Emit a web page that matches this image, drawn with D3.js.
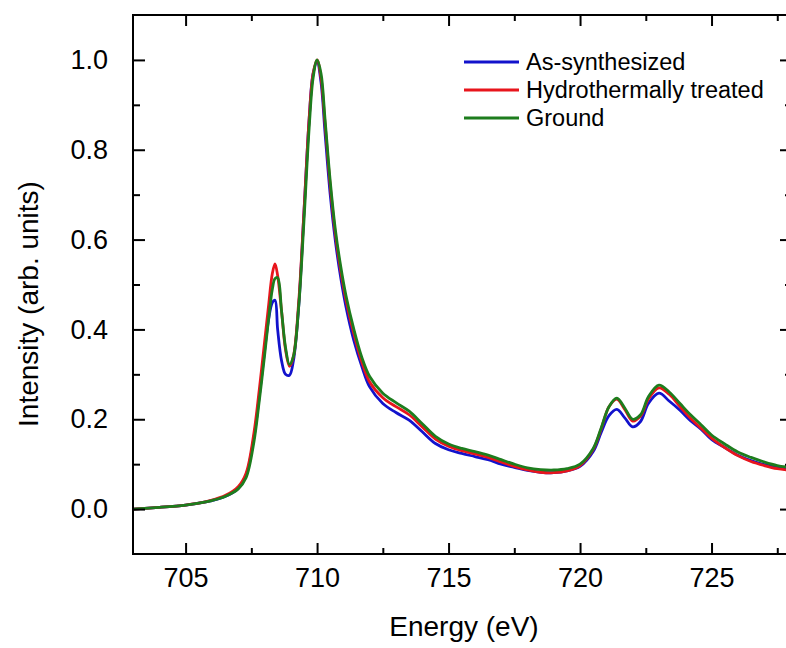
<!DOCTYPE html>
<html>
<head>
<meta charset="utf-8">
<script src="https://cdn.jsdelivr.net/npm/d3@7"></script>
<style>
  html, body { margin: 0; padding: 0; background: #fff; }
  svg { display: block; }
  text { font-family: "Liberation Sans", Arial, sans-serif; fill: #000; }
</style>
</head>
<body>
<svg id="chart" width="786" height="648"></svg>
<script>
// ---- Data ----
const energy = [703, 704, 705, 705.5, 706, 706.5, 707, 707.3, 707.6, 707.8, 708.0, 708.15, 708.3, 708.4, 708.5, 708.65, 708.8, 708.95, 709.1, 709.3, 709.5, 709.7, 709.85, 710.0, 710.15, 710.3, 710.5, 710.7, 710.9, 711.1, 711.4, 711.7, 712.0, 712.5, 713.0, 713.5, 714.0, 714.5, 715.0, 715.5, 716.0, 716.5, 717.0, 717.5, 718.0, 718.5, 719.0, 719.5, 720.0, 720.5, 720.8, 721.1, 721.4, 721.7, 722.0, 722.3, 722.6, 723.0, 723.4, 723.8, 724.2, 724.6, 725.0, 725.5, 726.0, 726.5, 727.0, 727.5, 728.1];

const asSynthesized = [0.000, 0.004, 0.009, 0.013, 0.019, 0.028, 0.046, 0.075, 0.160, 0.250, 0.350, 0.420, 0.460, 0.465, 0.400, 0.330, 0.300, 0.298, 0.330, 0.450, 0.660, 0.870, 0.970, 0.995, 0.950, 0.840, 0.700, 0.595, 0.515, 0.450, 0.375, 0.318, 0.272, 0.235, 0.215, 0.198, 0.172, 0.146, 0.132, 0.124, 0.117, 0.110, 0.100, 0.093, 0.086, 0.082, 0.081, 0.085, 0.095, 0.128, 0.170, 0.208, 0.222, 0.203, 0.183, 0.195, 0.235, 0.258, 0.240, 0.220, 0.197, 0.178, 0.155, 0.137, 0.120, 0.108, 0.099, 0.093, 0.088];

const hydrothermal = [0.000, 0.004, 0.009, 0.013, 0.020, 0.030, 0.050, 0.080, 0.170, 0.265, 0.370, 0.450, 0.525, 0.546, 0.520, 0.440, 0.355, 0.318, 0.340, 0.460, 0.660, 0.870, 0.970, 1.000, 0.960, 0.860, 0.720, 0.610, 0.530, 0.465, 0.390, 0.328, 0.283, 0.248, 0.228, 0.210, 0.183, 0.156, 0.140, 0.130, 0.123, 0.115, 0.105, 0.095, 0.087, 0.082, 0.081, 0.085, 0.097, 0.133, 0.178, 0.228, 0.245, 0.222, 0.196, 0.207, 0.245, 0.270, 0.255, 0.228, 0.202, 0.180, 0.158, 0.137, 0.119, 0.106, 0.097, 0.090, 0.086];

const ground = [0.000, 0.004, 0.009, 0.013, 0.019, 0.028, 0.045, 0.070, 0.150, 0.240, 0.340, 0.420, 0.490, 0.513, 0.515, 0.440, 0.360, 0.322, 0.340, 0.450, 0.640, 0.850, 0.960, 1.000, 0.970, 0.870, 0.730, 0.620, 0.540, 0.475, 0.400, 0.338, 0.295, 0.258, 0.237, 0.218, 0.190, 0.162, 0.145, 0.135, 0.128, 0.120, 0.110, 0.100, 0.092, 0.088, 0.087, 0.090, 0.100, 0.135, 0.180, 0.228, 0.247, 0.225, 0.200, 0.210, 0.250, 0.276, 0.260, 0.235, 0.210, 0.188, 0.165, 0.145, 0.127, 0.115, 0.105, 0.097, 0.092];

const seriesNames = ["As-synthesized", "Hydrothermally treated", "Ground"];
const xTickValues = [705, 710, 715, 720, 725];
const xMinorValues = [707.5, 712.5, 717.5, 722.5, 727.5];
const yTickValues = [0.0, 0.2, 0.4, 0.6, 0.8, 1.0];
const yMinorValues = [0.1, 0.3, 0.5, 0.7, 0.9];

// ---- Layout ----
const svg = d3.select("#chart");
const pLeft = 133, pRight = 792, pTop = 15, pBottom = 554;
const x = d3.scaleLinear().domain([703, 728.06]).range([pLeft, pRight]);
const y = d3.scaleLinear().domain([-0.1, 1.1]).range([pBottom, pTop]);

const colors = ["#1212cc", "#e8151c", "#1d7d1d"];
const seriesValues = [asSynthesized, hydrothermal, ground];

// ---- Lines ----
const line = d3.line()
  .x(d => x(d[0]))
  .y(d => y(d[1]))
  .curve(d3.curveCatmullRom.alpha(0.5));

svg.append("clipPath").attr("id", "clip")
  .append("rect").attr("x", pLeft).attr("y", pTop).attr("width", pRight - pLeft).attr("height", pBottom - pTop);

const plot = svg.append("g").attr("clip-path", "url(#clip)");
seriesValues.forEach((vals, i) => {
  const pts = energy.map((e, j) => [e, vals[j]]);
  plot.append("path")
    .datum(pts)
    .attr("fill", "none")
    .attr("stroke", colors[i])
    .attr("stroke-width", 2.8)
    .attr("stroke-linejoin", "round")
    .attr("d", line);
});

// ---- Axes ----
const fontTick = 27;
function styleAxis(g) {
  g.select(".domain").remove();
  g.selectAll("line").attr("stroke", "#000").attr("stroke-width", 2);
  g.selectAll("text").style("font-size", fontTick + "px").attr("fill", "#000")
    .style("font-family", '"Liberation Sans", Arial, sans-serif');
}

// bottom
const gB = svg.append("g").attr("transform", `translate(0,${pBottom})`);
gB.call(d3.axisBottom(x).tickValues(xTickValues).tickSize(-11).tickPadding(14).tickFormat(d3.format("d")));
gB.call(styleAxis);
gB.append("g").call(d3.axisBottom(x).tickValues(xMinorValues).tickSize(-6).tickFormat("")).call(styleAxis);

// top
const gT = svg.append("g").attr("transform", `translate(0,${pTop})`);
gT.call(d3.axisTop(x).tickValues(xTickValues).tickSize(-11).tickFormat(""));
gT.call(styleAxis);
gT.append("g").call(d3.axisTop(x).tickValues(xMinorValues).tickSize(-6).tickFormat("")).call(styleAxis);

// left
const gL = svg.append("g").attr("transform", `translate(${pLeft},0)`);
gL.call(d3.axisLeft(y).tickValues(yTickValues).tickSize(-12).tickPadding(25).tickFormat(d3.format(".1f")));
gL.call(styleAxis);
gL.append("g").call(d3.axisLeft(y).tickValues(yMinorValues).tickSize(-7).tickFormat("")).call(styleAxis);

// right
const gR = svg.append("g").attr("transform", `translate(${pRight},0)`);
gR.call(d3.axisRight(y).tickValues(yTickValues).tickSize(-12).tickFormat(""));
gR.call(styleAxis);
gR.append("g").call(d3.axisRight(y).tickValues(yMinorValues).tickSize(-7).tickFormat("")).call(styleAxis);

// frame
svg.append("rect")
  .attr("x", pLeft).attr("y", pTop)
  .attr("width", pRight - pLeft).attr("height", pBottom - pTop)
  .attr("fill", "none").attr("stroke", "#000").attr("stroke-width", 2);

// ---- Titles ----
svg.append("text")
  .attr("x", 464).attr("y", 636)
  .attr("text-anchor", "middle")
  .style("font-size", "28px")
  .text("Energy (eV)");

svg.append("text")
  .attr("transform", "translate(38,304) rotate(-90)")
  .attr("text-anchor", "middle")
  .style("font-size", "28px")
  .text("Intensity (arb. units)");

// ---- Legend ----
const legend = svg.append("g");
seriesNames.forEach((name, i) => {
  const ly = 62 + i * 28;
  legend.append("line")
    .attr("x1", 464).attr("x2", 519)
    .attr("y1", ly).attr("y2", ly)
    .attr("stroke", colors[i]).attr("stroke-width", 2.8);
  legend.append("text")
    .attr("x", 526).attr("y", ly + 8)
    .style("font-size", "23.5px")
    .text(name);
});
</script>
</body>
</html>
